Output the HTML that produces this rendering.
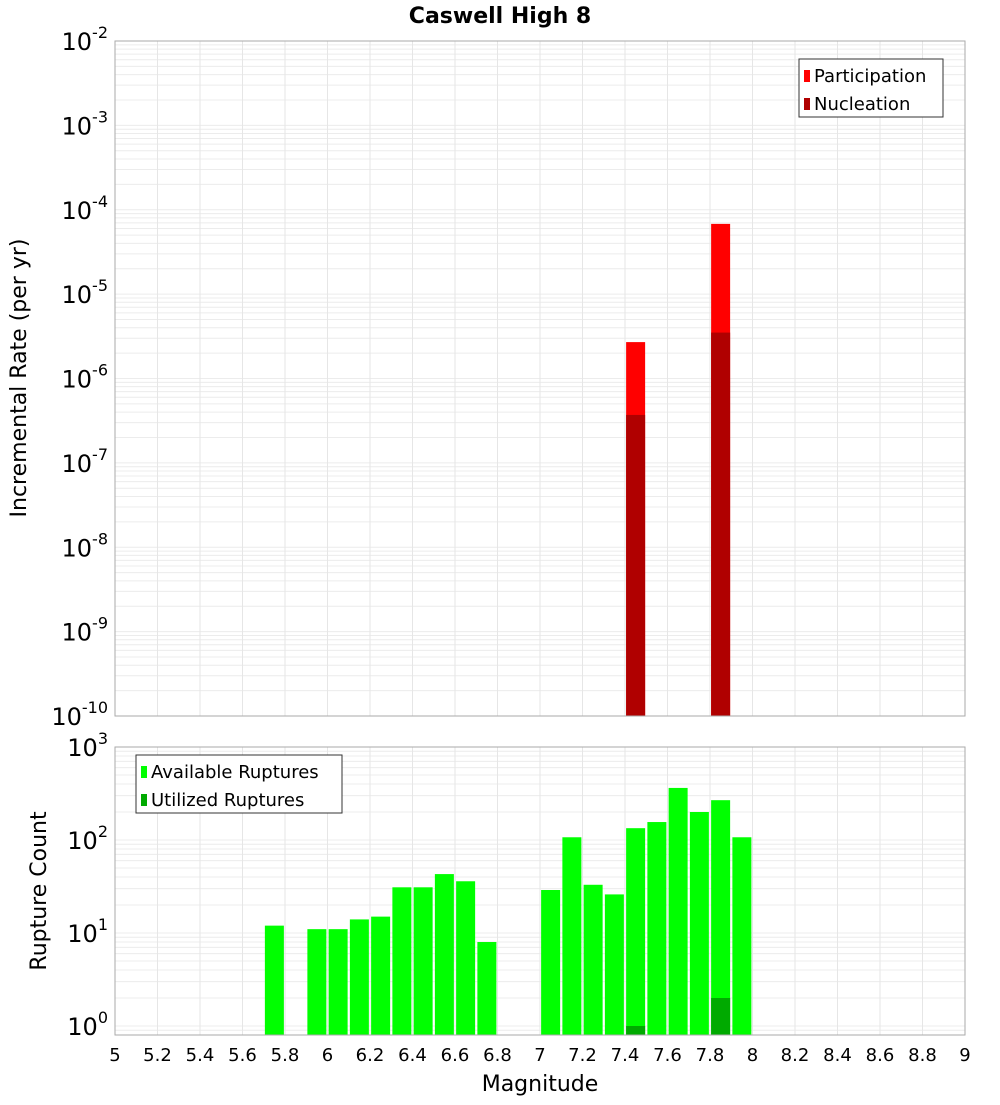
<!DOCTYPE html>
<html><head><meta charset="utf-8"><style>
body{margin:0;background:#fff;font-family:"Liberation Sans","DejaVu Sans",sans-serif}
svg text{font-family:"DejaVu Sans","Liberation Sans",sans-serif}
</style></head><body>
<svg id="c" width="1000" height="1100">
<text x="500" y="23" text-anchor="middle" font-size="22" font-weight="bold">Caswell High 8</text>
</svg>
<script>
const mags=[5.75,5.95,6.05,6.15,6.25,6.35,6.45,6.55,6.65,6.75,7.05,7.15,7.25,7.35,7.45,7.55,7.65,7.75,7.85,7.95];
const available=[12,11,11,14,15,31,31,43,36,8,29,107,33,26,134,156,363,200,268,107];
const utilizedMags=[7.45,7.85];
const utilized=[1,2];
const rateMags=[7.45,7.85];
const participation=[2.7e-6,6.8e-5];
const nucleation=[3.7e-7,3.5e-6];
const xTicks=[5,5.2,5.4,5.6,5.8,6,6.2,6.4,6.6,6.8,7,7.2,7.4,7.6,7.8,8,8.2,8.4,8.6,8.8,9];
const topDecades=[-2,-3,-4,-5,-6,-7,-8,-9,-10];
const botDecades=[3,2,1,0];

const svg=document.getElementById('c');const NS='http://www.w3.org/2000/svg';
function el(t,a,p){const e=document.createElementNS(NS,t);for(const k in a)e.setAttribute(k,a[k]);(p||svg).appendChild(e);return e;}
const X0=115,X1=965;
const x=m=>X0+(m-5)/4*(X1-X0);
const T0=41,T1=716;const yT=v=>T0+(-2-Math.log10(v))/8*(T1-T0);
const B0=747,B1=1035,BD=93;const yB=v=>B0+(3-Math.log10(v))*BD;

function grid(top,bot,yf,dmin,dmax,name){
  const g=el('g',{});
  for(let d=dmin;d<dmax;d++)for(let k=1;k<10;k++){const yy=yf(k*Math.pow(10,d));if(yy<top-0.5||yy>bot)continue;
    el('line',{x1:X0,x2:X1,y1:yy,y2:yy,stroke:'#ececec','stroke-width':1},g);}
  xTicks.forEach(t=>el('line',{x1:x(t),x2:x(t),y1:top,y2:bot,stroke:'#e6e6e6','stroke-width':1},g));
}
grid(T0,T1,yT,-10,-2,'top-grid');
grid(B0,B1,yB,-1,3,'bottom-grid');

const bw=19;
rateMags.forEach((m,i)=>{
  let r=el('rect',{x:x(m)-bw/2,y:yT(participation[i]),width:bw,height:T1-yT(participation[i]),fill:'#ff0000'});
  
  r=el('rect',{x:x(m)-bw/2,y:yT(nucleation[i]),width:bw,height:T1-yT(nucleation[i]),fill:'#b00000'});
  
});
mags.forEach((m,i)=>{
  const r=el('rect',{x:x(m)-bw/2,y:yB(available[i]),width:bw,height:B1-yB(available[i]),fill:'#00ff00'});
  
});
utilizedMags.forEach((m,i)=>{
  const r=el('rect',{x:x(m)-bw/2,y:yB(utilized[i]),width:bw,height:B1-yB(utilized[i]),fill:'#00aa00'});
  
});
el('rect',{x:X0,y:T0,width:X1-X0,height:T1-T0,fill:'none',stroke:'#aaa'});
el('rect',{x:X0,y:B0,width:X1-X0,height:B1-B0,fill:'none',stroke:'#aaa'});

topDecades.forEach(d=>{const t=el('text',{x:108,y:yT(Math.pow(10,d))+9,'text-anchor':'end','font-size':24});
  
  t.innerHTML='10<tspan dy="-12" font-size="16">'+d+'</tspan>';});
botDecades.forEach(d=>{const t=el('text',{x:108,y:yB(Math.pow(10,d))+9,'text-anchor':'end','font-size':24});
  
  t.innerHTML='10<tspan dy="-12" font-size="16">'+d+'</tspan>';});
xTicks.forEach(v=>{const t=el('text',{x:x(v),y:1061,'text-anchor':'middle','font-size':18});
  
  t.textContent=String(Math.round(v*10)/10);});
let t=el('text',{x:540,y:1091,'text-anchor':'middle','font-size':22});t.textContent='Magnitude';

t=el('text',{x:0,y:0,'text-anchor':'middle','font-size':22,transform:'translate(26,378) rotate(-90)'});t.textContent='Incremental Rate (per yr)';

t=el('text',{x:0,y:0,'text-anchor':'middle','font-size':22,transform:'translate(46,891) rotate(-90)'});t.textContent='Rupture Count';


function legend(lx,ly,w,items,name){
  const g=el('g',{});
  el('rect',{x:lx,y:ly,width:w,height:58,fill:'#fff',stroke:'#333'},g);
  items.forEach((it,i)=>{el('rect',{x:lx+5,y:ly+11+i*28,width:6,height:12,fill:it[1]},g);
    const tt=el('text',{x:lx+15,y:ly+23+i*28,'font-size':18},g);tt.textContent=it[0];});
}
legend(799,59,144,[['Participation','#ff0000'],['Nucleation','#b00000']],'top-legend');
legend(136,755,206,[['Available Ruptures','#00ff00'],['Utilized Ruptures','#00aa00']],'bottom-legend');
</script>
</body></html>
